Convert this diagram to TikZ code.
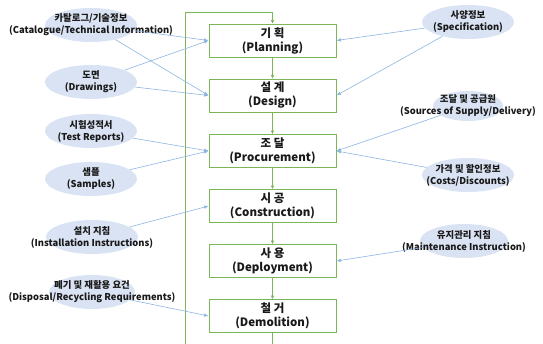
\documentclass[tikz,border=0pt]{standalone}
\usepackage{fontspec}
\setmainfont{Noto Sans CJK KR}
\usetikzlibrary{shapes.geometric,arrows.meta}
\definecolor{bgreen}{RGB}{125,182,88}
\definecolor{ablue}{RGB}{141,180,226}
\definecolor{efill}{RGB}{218,227,243}
\definecolor{txt}{RGB}{25,25,25}
\tikzset{
  stage/.style={draw=bgreen, line width=0.8pt, fill=white, minimum width=127pt, minimum height=33pt,
    inner sep=0pt, align=center, font=\fontsize{11.5}{14}\selectfont\bfseries, text=txt},
  info/.style={ellipse, fill=efill, draw=none, minimum width=92pt, minimum height=34pt, inner sep=0pt},
  infotext/.style={align=center, font=\fontsize{9.4}{12}\selectfont\bfseries, text=txt},
  feed/.style={draw=ablue, line width=0.6pt, -{Latex[length=4.5pt,width=3.5pt]}},
  flow/.style={draw=bgreen, line width=0.8pt, -{Latex[length=3.5pt,width=3.5pt]}},
  flowline/.style={draw=bgreen, line width=0.8pt}
}
\begin{document}
\begin{tikzpicture}[x=1pt,y=-1pt]
\useasboundingbox (0,0) rectangle (543,344);
% stages
\node[stage] (pln) at (272.5,40.5) {기 획\\(Planning)};
\node[stage] (des) at (272.5,95.5) {설 계\\(Design)};
\node[stage] (pro) at (272.5,151) {조 달\\(Procurement)};
\node[stage] (con) at (272.5,206) {시 공\\(Construction)};
\node[stage] (dep) at (272.5,261) {사 용\\(Deployment)};
\node[stage] (dem) at (272.5,316) {철 거\\(Demolition)};
% loop
\coordinate (lb) at (185,344);
\coordinate (lt) at (185,12);
\coordinate (tt) at (272.5,12);
\coordinate (db) at (272.5,344);
\draw[flowline] (lb) -- (lt) -- (tt);
\draw[flow] (tt) -- (pln.north);
\draw[flow] (pln) -- (des);
\draw[flow] (des) -- (pro);
\draw[flow] (pro) -- (con);
\draw[flow] (con) -- (dep);
\draw[flow] (dep) -- (dem);
\draw[flowline] (dem) -- (db);
% info ellipses left
\node[info] (cat) at (91,25) {};
\node[infotext] at (cat) {카탈로그/기술정보\\(Catalogue/Technical Information)};
\node[info] (drw) at (91,82) {};
\node[infotext] at (drw) {도면\\(Drawings)};
\node[info] (tst) at (91,131) {};
\node[infotext] at (tst) {시험성적서\\(Test Reports)};
\node[info] (smp) at (91,179) {};
\node[infotext] at (smp) {샘플\\(Samples)};
\node[info] (ins) at (92,237) {};
\node[infotext] at (ins) {설치 지침\\(Installation Instructions)};
\node[info, minimum width=86pt] (dis) at (92,292) {};
\node[infotext] at (dis) {폐기 및 재활용 요건\\(Disposal/Recycling Requirements)};
% info ellipses right
\node[info] (spc) at (468,22) {};
\node[infotext] at (spc) {사양정보\\(Specification)};
\node[info, minimum width=70pt, minimum height=30pt] (src) at (468,106) {};
\node[infotext] at (src) {조달 및 공급원\\(Sources of Supply/Delivery)};
\node[info] (cst) at (468,175) {};
\node[infotext] at (cst) {가격 및 할인정보\\(Costs/Discounts)};
\node[info, minimum width=88pt] (mnt) at (464,241) {};
\node[infotext] at (mnt) {유지관리 지침\\(Maintenance Instruction)};
% feeds
\draw[feed] (cat) -- (pln.west);
\draw[feed] (cat) -- (des.west);
\draw[feed] (drw) -- (pln.west);
\draw[feed] (drw) -- (des.west);
\draw[feed] (tst) -- (pro.west);
\draw[feed] (smp) -- (pro.west);
\draw[feed] (ins) -- (con.west);
\draw[feed] (dis) -- (dem.west);
\draw[feed] (spc) -- (pln.east);
\draw[feed] (spc) -- (des.east);
\draw[feed] (src) -- (pro.east);
\draw[feed] (cst) -- (pro.east);
\draw[feed] (mnt) -- (dep.east);
\end{tikzpicture}
\end{document}
